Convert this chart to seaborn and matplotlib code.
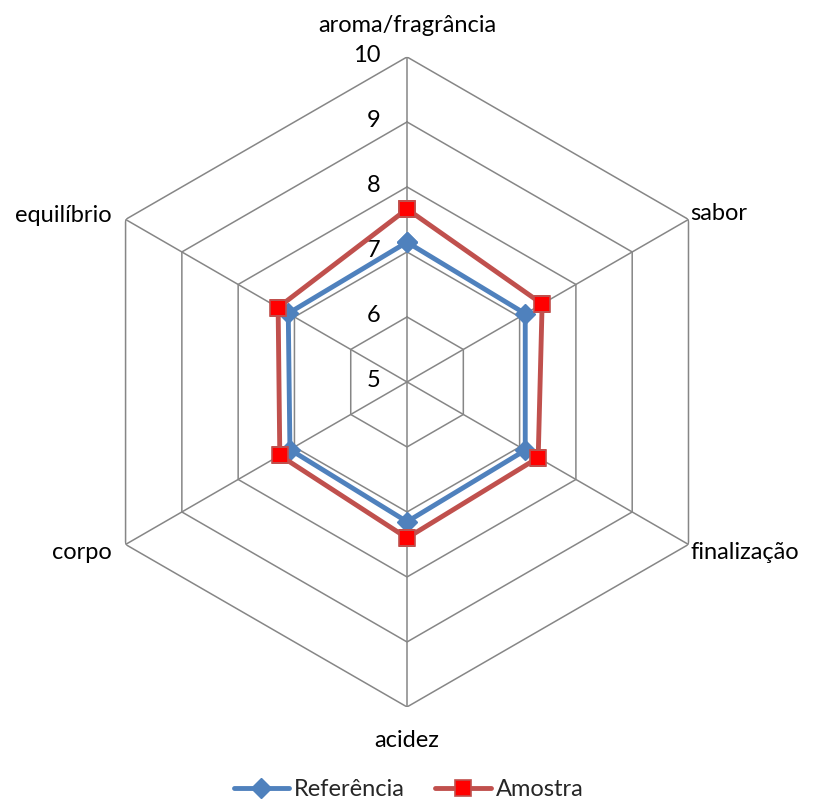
import numpy as np
import matplotlib
matplotlib.use('Agg')
import matplotlib.pyplot as plt
import seaborn as sns

categories = ['aroma/fragrância', 'sabor', 'finalização', 'acidez', 'corpo', 'equilíbrio']
referencia = [7.15, 7.10, 7.10, 7.15, 7.08, 7.11]
amostra = [7.66, 7.40, 7.33, 7.40, 7.26, 7.29]
rticks = [5, 6, 7, 8, 9, 10]

sns.set_theme(style='white')
plt.rcParams['font.family'] = ['Lato', 'DejaVu Sans']

n = len(categories)
angles = np.linspace(0, 2 * np.pi, n, endpoint=False)
closed = np.append(angles, angles[0])

fig = plt.figure(figsize=(8.17, 8.01), dpi=100)
ax = fig.add_axes([0.1004, 0.1174, 0.7956, 0.8115], projection='polar')
ax.set_theta_zero_location('N')
ax.set_theta_direction(-1)
ax.set_ylim(5, 10)
ax.spines['polar'].set_visible(False)
ax.grid(False)
ax.set_yticklabels([])
ax.set_xticks(angles)
ax.set_xticklabels([])
ax.tick_params(length=0)

# hexagonal grid
grid_color = '#868686'
for r in rticks:
    ax.plot(closed, [r] * (n + 1), color=grid_color, lw=1.1, zorder=1)
for a in angles:
    ax.plot([a, a], [5, 10], color=grid_color, lw=1.1, zorder=1)

# radial labels
for r in rticks:
    ax.annotate(str(r), xy=(0, r), xytext=(-19, 1), textcoords='offset points',
                ha='right', va='center', fontsize=17, color='black')

# category labels
offsets = [(0, 23), (1.5, 4), (1.5, -6), (0, -24), (-10, -6), (-10, 3)]
has = ['center', 'left', 'left', 'center', 'right', 'right']
for a, lab, off, ha in zip(angles, categories, offsets, has):
    ax.annotate(lab, xy=(a, 10), xytext=off, textcoords='offset points',
                ha=ha, va='center', fontsize=17, color='black')

ref_vals = referencia + referencia[:1]
amo_vals = amostra + amostra[:1]
ax.plot(closed, ref_vals, color='#4F81BD', lw=3.5, marker='D', markersize=10,
        markerfacecolor='#4F81BD', markeredgecolor='#4F81BD', label='Referência', zorder=3)
ax.plot(closed, amo_vals, color='#C0504D', lw=3.5, marker='s', markersize=12,
        markerfacecolor='#FF0000', markeredgecolor='#C0504D', markeredgewidth=1.2,
        label='Amostra', zorder=4)

fig.legend(loc='center', bbox_to_anchor=(0.5, 0.014), ncol=2, frameon=False,
           fontsize=17, handlelength=2.35, handletextpad=0.2, columnspacing=1.3)

plt.savefig('out.png', dpi=100)
